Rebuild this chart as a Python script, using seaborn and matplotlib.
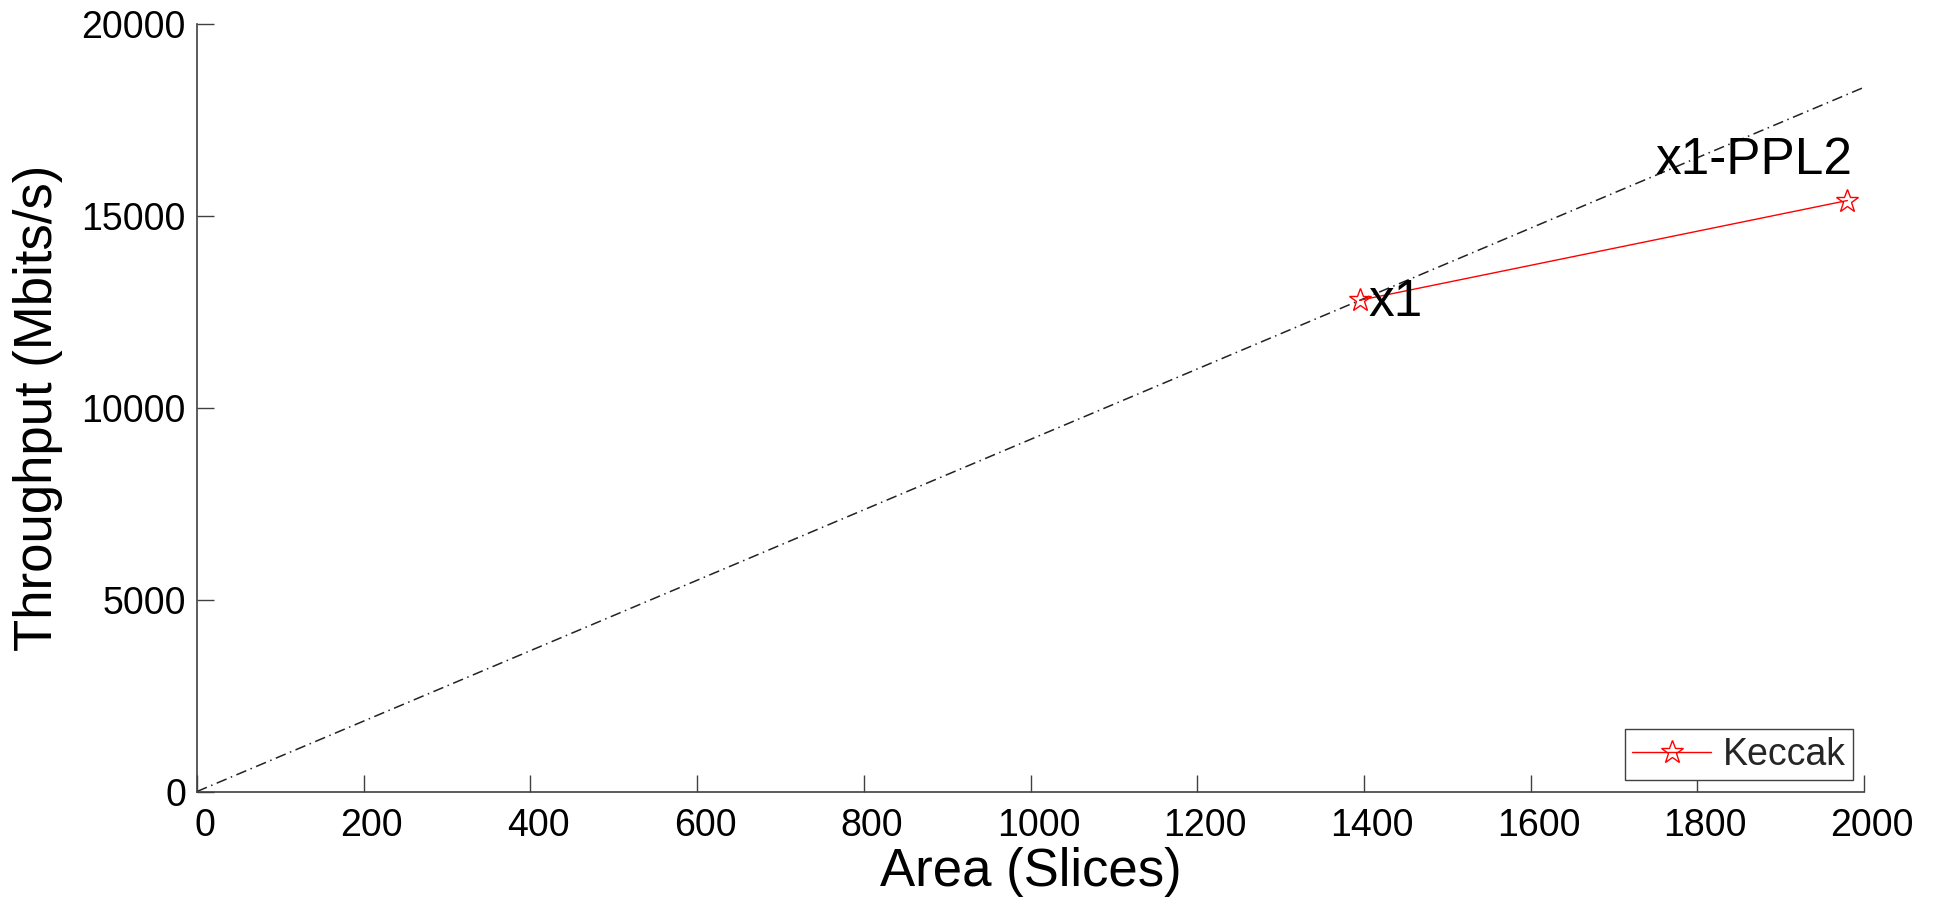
import matplotlib
matplotlib.use("Agg")
import matplotlib.pyplot as plt
import matplotlib.transforms as mtransforms
import seaborn as sns
import pandas as pd

# Data
keccak_area = [1395, 1980]
keccak_throughput = [12800, 15400]
ideal_area = [0, 2000]
ideal_throughput = [0, 18350]
point_labels = ["x1", "x1-PPL2"]
label_pos_x = [1405, 1750]
label_pos_y = [12750, 16450]
x_ticks = [0, 200, 400, 600, 800, 1000, 1200, 1400, 1600, 1800, 2000]
y_ticks = [0, 5000, 10000, 15000, 20000]

sns.set_theme(style="white")
plt.rcParams['font.family'] = ['Liberation Sans', 'DejaVu Sans']

fig = plt.figure(figsize=(19.36, 8.99), dpi=100)
ax = fig.add_axes([197/1936, 1 - 791.5/899, 1667/1936, 767.5/899])

df_ideal = pd.DataFrame({"area": ideal_area, "thr": ideal_throughput})
df_k = pd.DataFrame({"area": keccak_area, "thr": keccak_throughput})

sns.lineplot(data=df_ideal, x="area", y="thr", ax=ax, color="#222222",
             linewidth=1.1, linestyle=(0, (7, 3, 1, 3)), legend=False)
sns.lineplot(data=df_k, x="area", y="thr", ax=ax, color="red", linewidth=1.0,
             marker="*", markersize=17, markerfacecolor="none",
             markeredgecolor="red", markeredgewidth=1.0, label="Keccak")

for t, x, y in zip(point_labels, label_pos_x, label_pos_y):
    ax.text(x, y, t, fontsize=37, ha="left", va="center", color="black")

ax.set_xlim(0, 2000)
ax.set_ylim(0, 20000)
ax.set_xticks(x_ticks)
ax.set_yticks(y_ticks)
ax.set_xticklabels([str(v) for v in x_ticks])
ax.set_yticklabels([str(v) for v in y_ticks])

for s in ["top", "right"]:
    ax.spines[s].set_visible(False)
for s in ["left", "bottom"]:
    ax.spines[s].set_color("#404040")
    ax.spines[s].set_linewidth(1.2)

ax.tick_params(axis="both", direction="in", length=12, width=1.0, color="#404040",
               labelsize=27, labelcolor="black", bottom=True, left=True,
               top=False, right=False)
ax.tick_params(axis="x", pad=12)
ax.tick_params(axis="y", pad=8)

# slight rightward shift of x tick labels as in the reference
offset = mtransforms.ScaledTranslation(8/100, 0, fig.dpi_scale_trans)
for lbl in ax.get_xticklabels():
    lbl.set_transform(lbl.get_transform() + offset)

ax.set_xlabel("Area (Slices)", fontsize=38, color="black")
ax.set_ylabel("Throughput (Mbits/s)", fontsize=38, color="black")
ax.xaxis.set_label_coords(0.5, (791.5 - 872) / 767.5)
ax.xaxis.label.set_va("center")
ax.yaxis.set_label_coords((38 - 197) / 1667, 0.5)
ax.yaxis.label.set_va("center")

leg = ax.legend(loc="lower right", fontsize=27, frameon=True, fancybox=False,
                handlelength=2.1, handletextpad=0.3, borderaxespad=0.3,
                borderpad=0.2, framealpha=1)
leg.get_frame().set_edgecolor("#404040")
leg.get_frame().set_linewidth(1.0)

ax.grid(False)
fig.savefig("out.png", dpi=100, facecolor="white")
